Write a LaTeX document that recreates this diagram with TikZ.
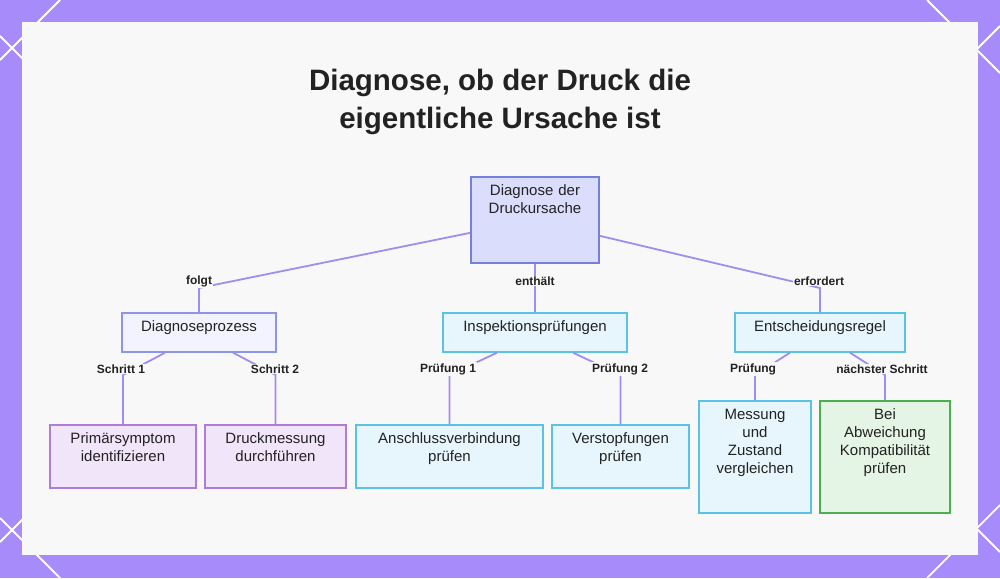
\documentclass[tikz,border=0pt]{standalone}
\usepackage{fontspec}
\setmainfont{Liberation Sans}
\definecolor{bgpurple}{HTML}{A78BFA}
\definecolor{panel}{HTML}{F8F8F8}
\definecolor{ink}{HTML}{222222}
\definecolor{edgepurple}{HTML}{A38CF0}
\definecolor{rootfill}{HTML}{DADDFB}
\definecolor{rootline}{HTML}{7680D8}
\definecolor{procfill}{HTML}{F2F3FE}
\definecolor{procline}{HTML}{8C95E6}
\definecolor{cyanfill}{HTML}{E7F6FD}
\definecolor{cyanline}{HTML}{5BC2E7}
\definecolor{violetfill}{HTML}{F1E5FA}
\definecolor{violetline}{HTML}{B07CD6}
\definecolor{greenfill}{HTML}{E5F5E5}
\definecolor{greenline}{HTML}{4CAF50}
\begin{document}
\begin{tikzpicture}[x=1pt,y=-1pt,
  tbox/.style={draw, line width=1.7pt, anchor=north, align=center,
    inner xsep=3pt, inner ysep=6pt, text height=13pt, text=ink,
    font=\fontsize{15}{18}\selectfont},
  cyanbox/.style={tbox, fill=cyanfill, draw=cyanline},
  violetbox/.style={tbox, fill=violetfill, draw=violetline},
  link/.style={draw=edgepurple, line width=1.8pt},
  lbl/.style={fill=panel, inner sep=1pt, text=ink,
    font=\fontsize{12}{14}\selectfont\bfseries}]
\useasboundingbox (0,0) rectangle (1000,578);
\fill[bgpurple] (0,0) rectangle (1000,578);
\foreach \xa/\ya/\xb/\yb in {60/0/0/60, 0/36/40/76, 927/0/1000/73, 1000/26/970/56,
  0/518/60/578, 0/542/30/512, 1000/505/927/578, 970/522/1000/552}{
  \draw[white, line width=1.8pt] (\xa,\ya) -- (\xb,\yb);
}
\fill[panel] (22,22) rectangle (978,555);

\node[align=center, text=ink, font=\fontsize{29.5}{38}\selectfont\bfseries]
  (title) at (500,102) {Diagnose, ob der Druck die\\eigentliche Ursache ist};

% top level
\node[tbox, fill=rootfill, draw=rootline, text width=122pt, text depth=61pt]
  (root) at (535,176) {Diagnose der\\Druckursache};

% second level
\node[tbox, fill=procfill, draw=procline, text width=148pt, text depth=14pt]
  (proc) at (199,312) {Diagnoseprozess};
\node[cyanbox, text width=178pt, text depth=14pt] (insp) at (535,312) {Inspektionsprüfungen};
\node[cyanbox, text width=164pt, text depth=14pt] (rule) at (820,312) {Entscheidungsregel};

% third level
\node[violetbox, text width=140pt, text depth=38pt] (symp) at (123,424) {Primärsymptom\\identifizieren};
\node[violetbox, text width=135pt, text depth=38pt] (meas) at (275.5,424) {Druckmessung\\durchführen};
\node[cyanbox, text width=181pt, text depth=38pt] (conn) at (449.5,424) {Anschlussverbindung\\prüfen};
\node[cyanbox, text width=131pt, text depth=38pt] (clog) at (620.5,424) {Verstopfungen\\prüfen};
\node[cyanbox, text width=106pt, text depth=87pt] (comp) at (755,400) {Messung\\und\\Zustand\\vergleichen};
\node[tbox, fill=greenfill, draw=greenline, text width=124pt, text depth=87pt]
  (dev) at (885,400) {Bei\\Abweichung\\Kompatibilität\\prüfen};

% bends
\coordinate (kfolgt) at (199,288);
\coordinate (kerf) at (820,288);
\coordinate (ks1) at (123,375);
\coordinate (ks2) at (275.5,375);
\coordinate (kp1) at (449.5,375);
\coordinate (kp2) at (620.5,375);
\coordinate (kpr) at (755,375);
\coordinate (kns) at (885,375);

\draw[link] ([yshift=-13pt]root.west) -- (kfolgt) -- (proc.north);
\draw[link] (root.south) -- (insp.north);
\draw[link] ([yshift=-16pt]root.east) -- (kerf) -- (rule.north);
\draw[link] ([xshift=-34pt]proc.south) -- (ks1) -- (symp.north);
\draw[link] ([xshift=34pt]proc.south) -- (ks2) -- (meas.north);
\draw[link] ([xshift=-38pt]insp.south) -- (kp1) -- (conn.north);
\draw[link] ([xshift=38pt]insp.south) -- (kp2) -- (clog.north);
\draw[link] ([xshift=-30pt]rule.south) -- (kpr) -- (comp.north);
\draw[link] ([xshift=30pt]rule.south) -- (kns) -- (dev.north);

% edge labels
\node[lbl] (lfolgt) at (199,281) {folgt};
\node[lbl] (lenth) at (535,281) {enthält};
\node[lbl] (lerf) at (819,281) {erfordert};
\node[lbl] (ls1) at (121,369) {Schritt 1};
\node[lbl] (ls2) at (275,369) {Schritt 2};
\node[lbl] (lp1) at (448,369) {Prüfung 1};
\node[lbl] (lp2) at (620,369) {Prüfung 2};
\node[lbl] (lpr) at (753,369) {Prüfung};
\node[lbl] (lns) at (882,369) {nächster Schritt};
\end{tikzpicture}
\end{document}
